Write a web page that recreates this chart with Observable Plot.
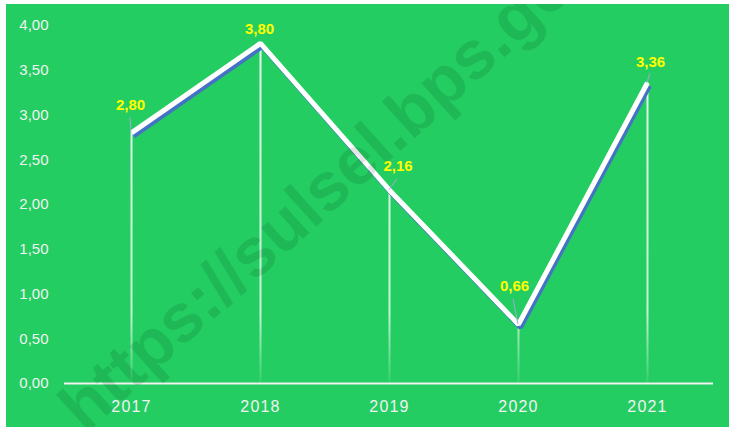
<!DOCTYPE html>
<html>
<head>
<meta charset="utf-8">
<script src="https://cdn.jsdelivr.net/npm/d3@7"></script>
<script src="https://cdn.jsdelivr.net/npm/@observablehq/plot@0.6"></script>
<style>
  html, body { margin: 0; padding: 0; background: #ffffff; }
  #chart { position: absolute; left: 6px; top: 4px; width: 723px; height: 423px; background: #23CD61; }
</style>
</head>
<body>
<div id="chart"></div>
<script>
// ---- data ----
const years = ["2017", "2018", "2019", "2020", "2021"];
const values = [2.80, 3.80, 2.16, 0.66, 3.36];
const yTicks = [0, 0.5, 1, 1.5, 2, 2.5, 3, 3.5, 4];
const watermark = "https://sulsel.bps.go.id";

// ---- label placement (styling, px offsets from each point) ----
const labelDx = [-1, -1, 8.5, -4, 3];
const labelDy = [-28, -14, -24, -38, -21];
const leaderFrom = [[-1, -15], null, [8, -11], [-5, -25], [3, -9]];

const comma = v => d3.format(".2f")(v).replace(".", ",");
const rows = years.map((y, i) => ({year: y, value: values[i]}));

const labelMarks = rows.map((r, i) => Plot.text([r], {
  x: "year", y: "value", text: d => comma(d.value),
  dx: labelDx[i], dy: labelDy[i],
  fill: "#FFFF00", fontWeight: "bold", fontSize: 15, textAnchor: "middle"
}));

const plot = Plot.plot({
  width: 723,
  height: 423,
  marginLeft: 58,
  marginRight: 16,
  marginTop: 21,
  marginBottom: 44,
  style: {background: "transparent", fontFamily: "'Liberation Sans', Arial, sans-serif", color: "#F2F2F2"},
  x: {type: "point", domain: years, padding: 0.5, label: null, tickSize: 0, tickPadding: 17},
  y: {domain: [0, 4], ticks: yTicks, tickFormat: comma, label: null, tickSize: 0, tickPadding: 16},
  marks: [
    Plot.ruleX(rows, {x: "year", y1: 0, y2: "value", stroke: "url(#dropGrad)", strokeWidth: 2}),
    Plot.ruleY([0], {stroke: "#F2F2F2", strokeWidth: 2}),
    Plot.line(rows, {x: "year", y: "value", stroke: "#4472C4", strokeWidth: 5, dx: 2, dy: 3, strokeLinejoin: "miter", strokeLinecap: "butt"}),
    Plot.line(rows, {x: "year", y: "value", stroke: "#FFFFFF", strokeWidth: 5, strokeLinejoin: "miter", strokeLinecap: "butt"}),
    ...labelMarks,
    Plot.text([watermark], {frameAnchor: "middle", text: d => d, dx: -43, dy: -34, rotate: -42,
      fontSize: 68, fontWeight: "bold", fill: "#000000", fillOpacity: 0.1, fontFamily: "'Liberation Sans', Arial, sans-serif"})
  ]
});

const svg = d3.select(plot);
// axis label styling
svg.selectAll('[aria-label^="y-axis"] text').style("font-size", "15px").attr("fill", "#F2F2F2");
svg.selectAll('[aria-label^="x-axis"] text').style("font-size", "16px").style("letter-spacing", "1.2px").attr("fill", "#F2F2F2");

// gradient for drop lines
const sy = plot.scale("y"), sx = plot.scale("x");
const defs = svg.insert("defs", ":first-child");
const g = defs.append("linearGradient").attr("id", "dropGrad")
  .attr("gradientUnits", "userSpaceOnUse")
  .attr("x1", 0).attr("x2", 0).attr("y1", sy.apply(4)).attr("y2", sy.apply(0));
g.append("stop").attr("offset", 0).attr("stop-color", "#FFFFFF").attr("stop-opacity", 0.9);
g.append("stop").attr("offset", 0.8).attr("stop-color", "#FFFFFF").attr("stop-opacity", 0.75);
g.append("stop").attr("offset", 1).attr("stop-color", "#FFFFFF").attr("stop-opacity", 0.08);

// leader lines from labels to points
const leaders = svg.insert("g", '[aria-label="text"]').attr("stroke", "#A4A8D8").attr("stroke-width", 1);
rows.forEach((r, i) => {
  if (!leaderFrom[i]) return;
  const px = sx.apply(r.year), py = sy.apply(r.value);
  leaders.append("line")
    .attr("x1", px + leaderFrom[i][0]).attr("y1", py + leaderFrom[i][1])
    .attr("x2", px).attr("y2", py);
});

document.getElementById("chart").appendChild(plot);
</script>
</body>
</html>
